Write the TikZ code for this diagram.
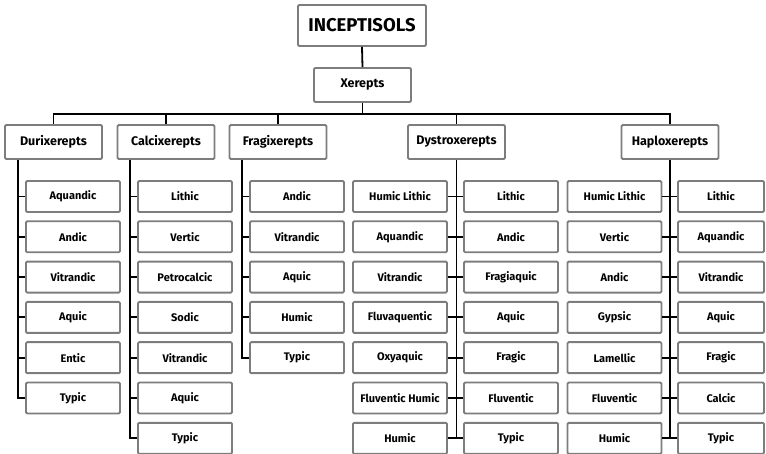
\documentclass[tikz,border=0pt]{standalone}
\usepackage{fontspec}
\setmainfont{Fira Sans}
\definecolor{bordergray}{RGB}{125,125,125}
\tikzset{
  box/.style={draw=bordergray, line width=1.9pt, rounded corners=1.2pt, fill=white,
    inner sep=0pt, align=center, text=black},
  toplabel/.style={box, minimum width=128, minimum height=41,
    font=\bfseries\fontsize{18.5}{21}\selectfont},
  midlabel/.style={box, minimum width=97, minimum height=34,
    font=\bfseries\fontsize{12.5}{14}\selectfont},
  leaf/.style={box, minimum width=94, minimum height=31,
    font=\bfseries\fontsize{11}{13}\selectfont},
  leafnarrow/.style={leaf, minimum width=86},
  conn/.style={draw=black, line width=1.8pt}
}
\begin{document}
\begin{tikzpicture}[x=1pt,y=-1pt]
\useasboundingbox (0,0) rectangle (766,454);
% top levels
\node[toplabel] (root) at (362,25.5) {INCEPTISOLS};
\node[midlabel] (xer) at (362.5,85) {Xerepts};
\node[midlabel] (durix) at (53.5,142) {Durixerepts};
\node[midlabel] (calci) at (166,142) {Calcixerepts};
\node[midlabel] (fragi) at (278,142) {Fragixerepts};
\node[midlabel] (dystro) at (456.5,142) {Dystroxerepts};
\node[midlabel] (haplo) at (670,142) {Haploxerepts};
\coordinate (bus) at (0,114);
\draw[conn] (root.south) -- (xer.north);
\draw[conn] (xer.south) -- (xer.south |- bus);
\draw[conn] (durix.north) |- (haplo.north |- bus) -- (haplo.north);
\draw[conn] (calci.north) -- (calci.north |- bus);
\draw[conn] (fragi.north) -- (fragi.north |- bus);
\draw[conn] (dystro.north) -- (dystro.north |- bus);
% trunk x positions
\coordinate (dut) at (18,0);
\coordinate (cat) at (130,0);
\coordinate (frt) at (242,0);
% Durixerepts children
\foreach \t [count=\i] in {Aquandic,Andic,Vitrandic,Aquic,Entic,Typic}
  \node[leaf] (du\i) at (73,{196.5+40.3*(\i-1)}) {\t};
\draw[conn] (durix.south -| dut) |- (du6.west);
\foreach \i in {1,...,5} \draw[conn] (du\i.west) -- (du\i.west -| dut);
% Calcixerepts children
\foreach \t [count=\i] in {Lithic,Vertic,Petrocalcic,Sodic,Vitrandic,Aquic,Typic}
  \node[leaf] (ca\i) at (185,{196.5+40.3*(\i-1)}) {\t};
\draw[conn] (calci.south -| cat) |- (ca7.west);
\foreach \i in {1,...,6} \draw[conn] (ca\i.west) -- (ca\i.west -| cat);
% Fragixerepts children
\foreach \t [count=\i] in {Andic,Vitrandic,Aquic,Humic,Typic}
  \node[leaf] (fr\i) at (297,{196.5+40.3*(\i-1)}) {\t};
\draw[conn] (fragi.south -| frt) |- (fr5.west);
\foreach \i in {1,...,4} \draw[conn] (fr\i.west) -- (fr\i.west -| frt);
% Dystroxerepts children
\foreach \t [count=\i] in {Humic Lithic,Aquandic,Vitrandic,Fluvaquentic,Oxyaquic,Fluventic Humic,Humic}
  \node[leaf] (dyL\i) at (400,{196.5+40.3*(\i-1)}) {\t};
\foreach \t [count=\i] in {Lithic,Andic,Fragiaquic,Aquic,Fragic,Fluventic,Typic}
  \node[leaf] (dyR\i) at (511,{196.5+40.3*(\i-1)}) {\t};
\draw[conn] (dystro.south) -- (dystro.south |- dyR7.west);
\foreach \i in {1,...,7} \draw[conn] (dyL\i.east) -- (dyR\i.west);
% Haploxerepts children
\foreach \t [count=\i] in {Humic Lithic,Vertic,Andic,Gypsic,Lamellic,Fluventic,Humic}
  \node[leaf] (haL\i) at (614.5,{196.5+40.3*(\i-1)}) {\t};
\foreach \t [count=\i] in {Lithic,Aquandic,Vitrandic,Aquic,Fragic,Calcic,Typic}
  \node[leafnarrow] (haR\i) at (721,{196.5+40.3*(\i-1)}) {\t};
\draw[conn] (haplo.south) -- (haplo.south |- haR7.west);
\foreach \i in {1,...,7} \draw[conn] (haL\i.east) -- (haR\i.west);
\end{tikzpicture}
\end{document}
